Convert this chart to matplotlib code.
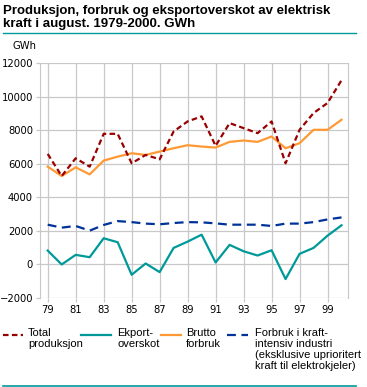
import numpy as np
import matplotlib.pyplot as plt

aar = np.arange(79, 101)
tick_labels = ["79", "81", "83", "85", "87", "89", "91", "93", "95", "97", "99"]

total_prod = [6600, 5280, 6340, 5840, 7800, 7800, 6040, 6540, 6280, 7940, 8540,
              8840, 7080, 8440, 8140, 7840, 8540, 6040, 8040, 9040, 9640, 11000]
eksport = [830, 0, 575, 435, 1565, 1330, -615, 60, -455, 990, 1365,
           1780, 120, 1170, 790, 535, 850, -870, 635, 990, 1720, 2340]
brutto = [5840, 5280, 5800, 5380, 6200, 6440, 6640, 6540, 6740, 6940, 7120,
          7040, 6980, 7320, 7400, 7320, 7640, 6940, 7240, 8040, 8040, 8640]
kraftint = [2376, 2200, 2300, 2020, 2360, 2590, 2530, 2440, 2400, 2475, 2530,
            2515, 2455, 2376, 2376, 2376, 2300, 2440, 2440, 2530, 2690, 2810]

red = "#990000"
teal = "#009999"
orange = "#ff9933"
blue = "#003399"
grid = "#c8c8c8"

fig = plt.figure(figsize=(3.67, 3.87), dpi=100)
ax = fig.add_axes([0.109, 0.230, 0.838, 0.606])

ax.plot(aar, kraftint, color=blue, lw=1.6, dashes=(4, 2.5))
ax.plot(aar, eksport, color=teal, lw=1.6)
ax.plot(aar, brutto, color=orange, lw=1.6)
ax.plot(aar, total_prod, color=red, lw=1.6, dashes=(2.5, 1.5))

ax.set_xlim(78.45, 100.43)
ax.set_ylim(-2000, 12000)
ax.set_xticks(np.arange(79, 101, 2))
ax.set_xticklabels(tick_labels)
ax.set_yticks(np.arange(-2000, 12001, 2000))
ax.grid(True, color=grid, lw=0.9)
ax.set_axisbelow(True)
for s in ["top", "bottom"]:
    ax.spines[s].set_visible(False)
ax.spines["left"].set_color(grid)
ax.spines["right"].set_color(grid)
ax.tick_params(colors=grid, length=3, width=0.9, labelcolor="black", labelsize=7.2, pad=2)

fig.text(0.008, 0.988, "Produksjon, forbruk og eksportoverskot av elektrisk\nkraft i august. 1979-2000. GWh",
         fontsize=9.5, fontweight="bold", family="Liberation Sans", va="top", ha="left", linespacing=1.1)
fig.add_artist(plt.Line2D([0.008, 0.97], [0.915, 0.915], color=teal, lw=1))
fig.add_artist(plt.Line2D([0.008, 0.97], [0.003, 0.003], color=teal, lw=1.2))
fig.text(0.033, 0.882, "GWh", fontsize=7.2, va="center", ha="left")

# legend
def leg(x0, x1, y, color, dashes):
    ln = plt.Line2D([x0 / 367, x1 / 367], [1 - y / 387, 1 - y / 387], color=color, lw=1.6)
    if dashes:
        ln.set_dashes(dashes)
    fig.add_artist(ln)

leg(3, 23, 335, red, (2.5, 1.5))
leg(81, 111, 335, teal, None)
leg(161, 181, 335, orange, None)
leg(227, 248, 335, blue, (4, 2.5))
for x, txt in [(28, "Total\nproduksjon"), (117, "Ekport-\noverskot"), (186, "Brutto\nforbruk"),
               (255, "Forbruk i kraft-\nintensiv industri\n(eksklusive uprioritert\nkraft til elektrokjeler)")]:
    fig.text(x / 367, 1 - 328 / 387, txt, fontsize=8, family="Liberation Sans",
             va="top", ha="left", linespacing=1.12)

fig.savefig("out.png", dpi=100)
